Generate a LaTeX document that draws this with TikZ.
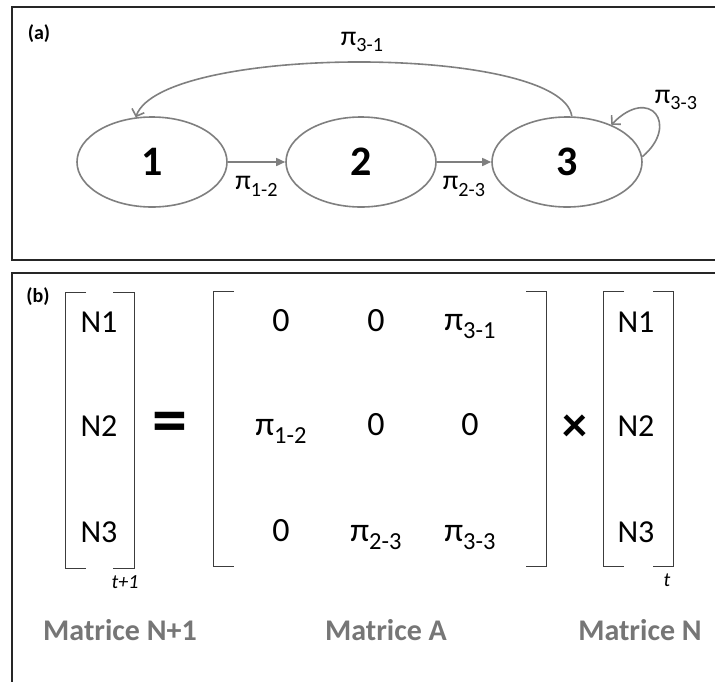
\documentclass[tikz,border=0pt]{standalone}
\usepackage{fontspec}
\setmainfont{Carlito}
\usepackage{graphicx}
\usetikzlibrary{arrows.meta,shapes.geometric}
\definecolor{lngray}{RGB}{127,127,127}
\definecolor{titlegray}{RGB}{118,118,118}
\definecolor{brkgray}{RGB}{60,60,60}
\newcommand{\trans}[1]{π\raisebox{-0.24em}{\scalebox{0.72}{#1}}}

\begin{document}
\begin{tikzpicture}[x=1pt, y=-1pt,
  stnode/.style={draw=lngray, line width=1.6pt, ellipse,
    minimum width=150pt, minimum height=90pt, inner sep=0pt,
    font=\fontsize{42}{48}\selectfont\bfseries},
  arr/.style={-{Triangle[length=9pt, width=8pt]}, draw=lngray, line width=1.6pt},
  backarr/.style={-{Straight Barb[length=6pt, width=13pt]}, draw=lngray, line width=1.6pt},
  lbl/.style={font=\fontsize{28}{32}\selectfont},
  vecentry/.style={anchor=base, font=\fontsize{32}{38}\selectfont},
  entry/.style={anchor=base, font=\fontsize{34}{40}\selectfont},
  brk/.style={draw=brkgray, line width=0.9pt},
  tag/.style={font=\fontsize{20}{24}\selectfont\bfseries},
  timelbl/.style={font=\fontsize{20}{24}\selectfont\itshape},
  mattitle/.style={text=titlegray, font=\fontsize{30}{36}\selectfont\bfseries},
  panel/.style={draw=black!85, line width=2pt}]
\useasboundingbox (0,0) rectangle (715,681);
% Panels
\draw[panel] (717,7) -- (12,7) -- (12,260) -- (717,260);
\draw[panel] (717,273) -- (12,273) -- (12,683);
% (a) States
\node[tag] (taga) at (39,34) {(a)};
\node[stnode] (n1) at (152,162) {1};
\node[stnode] (n2) at (361,162) {2};
\node[stnode] (n3) at (567,162) {3};
% Transitions
\draw[arr] (n1) -- (n2)
  node[midway, below=10pt, lbl] {\trans{1-2}};
\draw[arr] (n2) -- (n3)
  node[midway, below=10pt, lbl] {\trans{2-3}};
\draw[backarr] (n3.84) .. controls (562,44) and (162,44) .. (n1.110);
\node[lbl] (l31) at (362,42) {\trans{3-1}};
\draw[backarr] (n3.4) .. controls (680,125) and (650,85) .. (n3.40);
\node[lbl] (l33) at (676,100) {\trans{3-3}};
% (b) Matrix product
\node[tag] (tagb) at (38,297) {(b)};
% Vector N at t+1
\draw[brk] (86,292) -- (65,292) -- (65,568) -- (86,568);
\draw[brk] (113,292) -- (134,292) -- (134,568) -- (113,568);
\node[vecentry] (u1) at (99,332) {N1};
\node[vecentry] (u2) at (99,436) {N2};
\node[vecentry] (u3) at (99,542) {N3};
\node[timelbl] (tnext) at (125,582) {t+1};
\node[font=\fontsize{70}{74}\selectfont\bfseries] (eq) at (170,428) {=};
% Matrix A
\draw[brk] (234,291) -- (213,291) -- (213,566) -- (234,566);
\draw[brk] (526,291) -- (546,291) -- (546,566) -- (526,566);
\node[entry] (a11) at (281,331) {0};
\node[entry] (a12) at (376,331) {0};
\node[entry] (a13) at (470,330) {\trans{3-1}};
\node[entry] (a21) at (281,435) {\trans{1-2}};
\node[entry] (a22) at (376,435) {0};
\node[entry] (a23) at (470,435) {0};
\node[entry] (a31) at (281,541) {0};
\node[entry] (a32) at (376,541) {\trans{2-3}};
\node[entry] (a33) at (470,541) {\trans{3-3}};
\node[font=\fontsize{50}{54}\selectfont\bfseries] (times) at (575,428) {×};
% Vector N at t
\draw[brk] (624,291) -- (603,291) -- (603,566) -- (624,566);
\draw[brk] (653,291) -- (673,291) -- (673,566) -- (653,566);
\node[vecentry] (w1) at (636,332) {N1};
\node[vecentry] (w2) at (636,436) {N2};
\node[vecentry] (w3) at (636,542) {N3};
\node[timelbl] (tnow) at (667,580) {t};
% Titles
\node[mattitle] (mt1) at (120,630) {Matrice N+1};
\node[mattitle] (mt2) at (386,630) {Matrice A};
\node[mattitle] (mt3) at (640,630) {Matrice N};
\end{tikzpicture}
\end{document}
